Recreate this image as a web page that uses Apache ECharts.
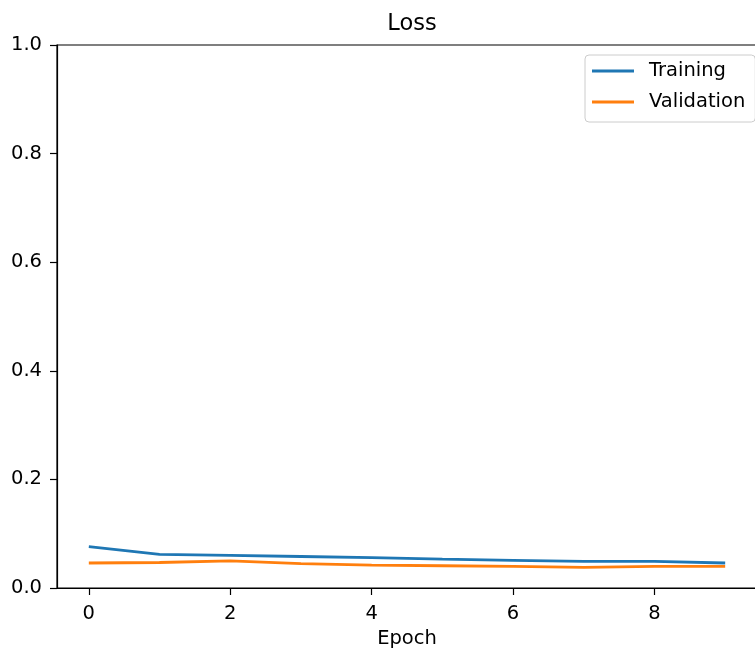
<!DOCTYPE html>
<html>
<head>
<meta charset="utf-8">
<title>Loss</title>
<script src="https://cdn.jsdelivr.net/npm/echarts@6/dist/echarts.min.js"></script>
<style>
html, body { margin: 0; padding: 0; background: #fff; }
#main { width: 755px; height: 650px; }
</style>
</head>
<body>
<div id="main"></div>
<script>
// data
var epochs = [0, 1, 2, 3, 4, 5, 6, 7, 8, 9];
var training = [0.076, 0.062, 0.060, 0.058, 0.056, 0.053, 0.051, 0.049, 0.049, 0.046];
var validation = [0.046, 0.047, 0.050, 0.045, 0.042, 0.041, 0.040, 0.038, 0.040, 0.040];
var xTicks = [0, 2, 4, 6, 8];

var font = '"DejaVu Sans", sans-serif';

function pairs(ys) {
	return epochs.map(function (x, i) { return [x, ys[i]]; });
}

var myChart = echarts.init(document.getElementById('main'));

var option = {
	animation: false,
	title: {
		text: 'Loss',
		left: 407,
		top: 8,
		textAlign: 'center',
		textStyle: { fontFamily: font, fontSize: 22.5, fontWeight: 'normal', color: '#000' }
	},
	legend: {
		orient: 'vertical',
		left: 585,
		top: 55,
		padding: [5, 10, 9, 7],
		itemGap: 9,
		itemWidth: 42,
		itemHeight: 3,
		icon: 'rect',
		borderColor: '#cccccc',
		borderWidth: 1,
		borderRadius: 4,
		textStyle: { fontFamily: font, fontSize: 19.5, color: '#000', lineHeight: 22, padding: [0, 0, 0, 10] },
		data: ['Training', 'Validation']
	},
	grid: {
		left: 57,
		top: 45,
		width: 700,
		height: 543,
		show: true,
		borderColor: '#000',
		borderWidth: 1.2,
		containLabel: false,
		outerBoundsMode: 'none'
	},
	xAxis: {
		type: 'value',
		min: -0.45,
		max: 9.45,
		name: 'Epoch',
		nameLocation: 'middle',
		nameGap: 41,
		nameTextStyle: { fontFamily: font, fontSize: 19.5, color: '#000' },
		axisLine: { onZero: false, lineStyle: { color: '#000', width: 1.2 } },
		axisTick: { show: true, length: 7, customValues: xTicks, lineStyle: { color: '#000', width: 1.2 } },
		axisLabel: { customValues: xTicks, margin: 16, fontFamily: font, fontSize: 19.5, color: '#000' },
		splitLine: { show: false }
	},
	yAxis: {
		type: 'value',
		min: 0,
		max: 1,
		interval: 0.2,
		axisLine: { show: true, onZero: false, lineStyle: { color: '#000', width: 1.2 } },
		axisTick: { show: true, length: 7, lineStyle: { color: '#000', width: 1.2 } },
		axisLabel: {
			margin: 15,
			fontFamily: font,
			fontSize: 19.5,
			color: '#000',
			formatter: function (v) { return v.toFixed(1); }
		},
		splitLine: { show: false }
	},
	series: [{
		name: 'Training',
		type: 'line',
		data: pairs(training),
		showSymbol: false,
		color: '#1f77b4',
		lineStyle: { width: 2.8, color: '#1f77b4' }
	}, {
		name: 'Validation',
		type: 'line',
		data: pairs(validation),
		showSymbol: false,
		color: '#ff7f0e',
		lineStyle: { width: 2.8, color: '#ff7f0e' }
	}]
};
myChart.setOption(option);
</script>
</body>
</html>
